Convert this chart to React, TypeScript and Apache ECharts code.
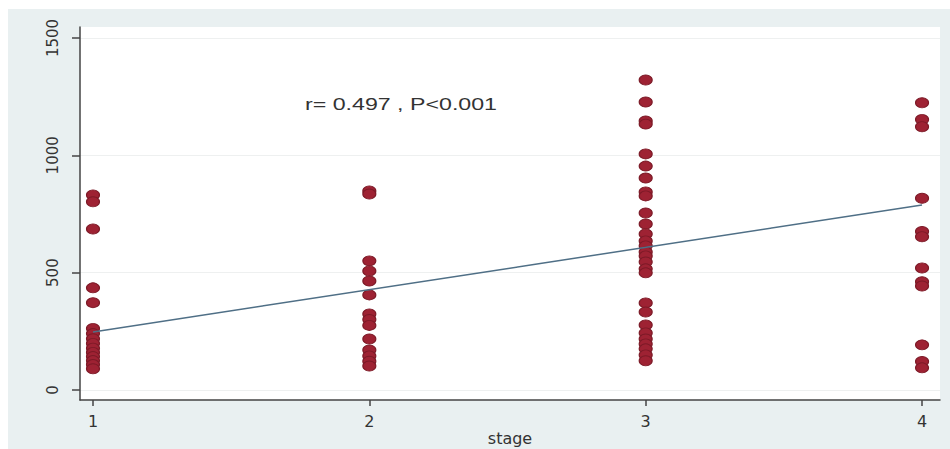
import React, { useEffect, useRef } from "react";
import * as echarts from "echarts";

const stages = [1, 2, 3, 4];
const stageLabels = ["1", "2", "3", "4"];
const yTicks = [0, 500, 1000, 1500];

const stage1 = [831, 802, 686, 435, 372, 262, 240, 218, 198, 178, 160, 142, 125, 108, 90];
const stage2 = [848, 835, 550, 507, 464, 405, 324, 300, 275, 217, 170, 145, 122, 102];
const stage3 = [1321, 1227, 1146, 1133, 1006, 954, 903, 844, 827, 754, 707, 665, 635, 614, 588, 571, 545, 516, 499, 371, 332, 277, 243, 217, 196, 175, 149, 124];
const stage4 = [1224, 1153, 1122, 817, 675, 653, 520, 461, 443, 192, 121, 94];

const fitX = [1, 4];
const fitY = [247, 788];

const annotation = "r= 0.497 , P<0.001";
const xName = "stage";

export default function App() {
  const ref = useRef<HTMLDivElement>(null);
  useEffect(() => {
    if (!ref.current) return;
    const chart = echarts.init(ref.current, null, { renderer: "svg" });
    const groups = [stage1, stage2, stage3, stage4];
    const points: number[][] = [];
    groups.forEach((g, i) => g.forEach((v) => points.push([stages[i], v])));
    const fit = fitX.map((x, i) => [x, fitY[i]]);
    const font = "'Liberation Sans', Arial, sans-serif";
    const labelFont = "'DejaVu Sans', sans-serif";
    chart.setOption({
      animation: false,
      backgroundColor: "#e9f0f1",
      grid: {
        left: 72,
        top: 18,
        right: 10,
        bottom: 49,
        show: true,
        backgroundColor: "#ffffff",
        borderWidth: 0,
        outerBoundsMode: "none",
        containLabel: false,
      },
      xAxis: {
        type: "value",
        min: 0.953,
        max: 4.065,
        name: xName,
        nameLocation: "middle",
        nameGap: 30,
        nameMoveOverlap: false,
        nameTextStyle: { fontSize: 16, color: "#333", fontFamily: labelFont },
        axisLine: { show: true, onZero: false, lineStyle: { color: "#444", width: 1.5 } },
        axisTick: { show: true, length: 6, customValues: stages, lineStyle: { color: "#444", width: 1.5 } },
        axisLabel: {
          customValues: stages,
          formatter: (v: number) => stageLabels[stages.indexOf(v)] ?? "",
          fontSize: 16,
          color: "#333",
          fontFamily: labelFont,
          margin: 13,
        },
        splitLine: { show: false },
      },
      yAxis: {
        type: "value",
        min: -43,
        max: 1547,
        axisLine: { show: true, onZero: false, lineStyle: { color: "#444", width: 1.5 } },
        axisTick: { show: true, length: 8, customValues: yTicks, lineStyle: { color: "#444", width: 1.5 } },
        axisLabel: {
          customValues: yTicks,
          formatter: (v: number) => String(v),
          rotate: 90,
          fontSize: 15,
          color: "#333",
          fontFamily: labelFont,
          margin: 20,
        },
        splitLine: { show: true, lineStyle: { color: "#eef0f0", width: 1 } },
      },
      graphic: [
        {
          type: "text",
          x: 297,
          y: 95,
          scaleX: 1.45,
          style: {
            text: annotation,
            fontSize: 16,
            fontFamily: font,
            fill: "#333",
            align: "left",
            verticalAlign: "middle",
          },
          z: 10,
        },
      ],
      series: [
        {
          type: "line",
          data: fit,
          showSymbol: false,
          symbol: "none",
          lineStyle: { color: "#4f6f86", width: 1.5 },
          z: 3,
        },
        {
          type: "scatter",
          data: points,
          symbol: "circle",
          symbolSize: [13, 10],
          itemStyle: { color: "#9e2233", borderColor: "#7c1a27", borderWidth: 1, opacity: 1 },
          z: 2,
        },
      ],
    });
    return () => chart.dispose();
  }, []);
  return (
    <div
      ref={ref}
      style={{ position: "fixed", left: 8, top: 9, width: 942, height: 440 }}
    />
  );
}
